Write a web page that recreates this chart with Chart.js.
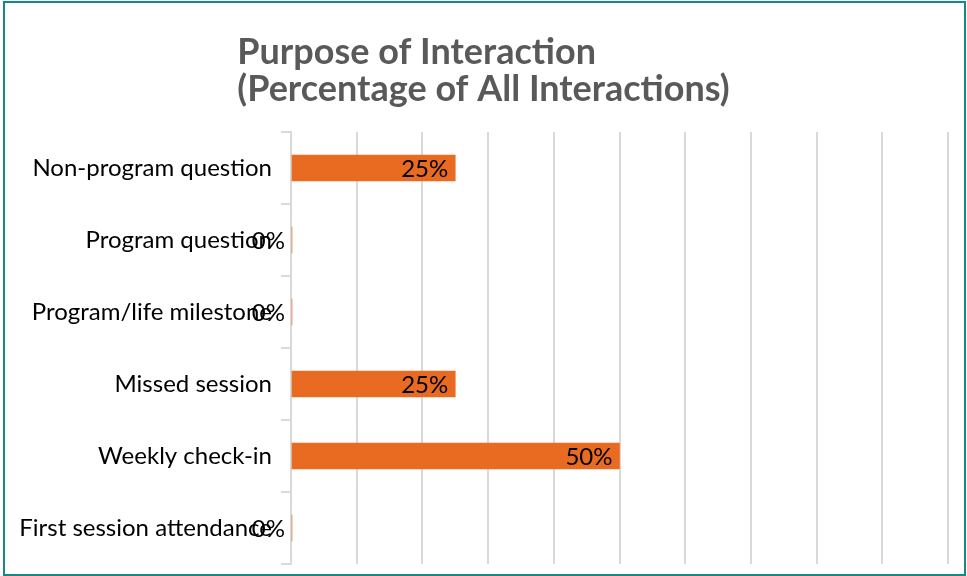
<!DOCTYPE html>
<html>
<head>
<meta charset="utf-8">
<script src="https://cdn.jsdelivr.net/npm/chart.js@4"></script>
<style>
  html, body { margin: 0; padding: 0; background: #fff; }
  #wrap { width: 967px; height: 576px; position: relative; }
</style>
</head>
<body>
<div id="wrap"><canvas id="chart"></canvas></div>
<script>
const categories = [
  'Non-program question',
  'Program question',
  'Program/life milestone',
  'Missed session',
  'Weekly check-in',
  'First session attendance'
];
const percentValues = [25, 0, 0, 25, 50, 0];
const titleLines = ['Purpose of Interaction', '(Percentage of All Interactions)'];

const barColor = '#e96b22';
const gridColor = '#d9d9d9';

// title block: lines left-aligned, block centred on the canvas
const blockTitle = {
  id: 'blockTitle',
  afterDraw: (chart) => {
    const {ctx} = chart;
    ctx.save();
    ctx.font = 'bold 36px Lato';
    ctx.fillStyle = '#595959';
    ctx.textBaseline = 'alphabetic';
    const w = Math.max(...titleLines.map(t => ctx.measureText(t).width));
    const x = (chart.width - w) / 2;
    titleLines.forEach((t, i) => ctx.fillText(t, x, 64 + i * 37));
    ctx.restore();
  }
};

const valueLabels = {
  id: 'valueLabels',
  afterDatasetsDraw: (chart) => {
    const {ctx} = chart;
    const meta = chart.getDatasetMeta(0);
    ctx.save();
    ctx.font = '24px Lato';
    ctx.fillStyle = '#000';
    ctx.textAlign = 'right';
    ctx.textBaseline = 'middle';
    meta.data.forEach((bar, i) => {
      ctx.fillText(`${percentValues[i]}%`, bar.x - 7, bar.y + 1);
    });
    ctx.restore();
  }
};

const frame = {
  id: 'frame',
  beforeDraw: (chart) => {
    const {ctx} = chart;
    ctx.save();
    ctx.fillStyle = '#fff';
    ctx.fillRect(0, 0, chart.width, chart.height);
    ctx.restore();
  },
  afterDraw: (chart) => {
    const {ctx} = chart;
    ctx.save();
    ctx.strokeStyle = '#13898a';
    ctx.lineWidth = 2;
    ctx.strokeRect(4, 2, chart.width - 6, chart.height - 3);
    ctx.restore();
  }
};

new Chart(document.getElementById('chart'), {
  type: 'bar',
  data: {
    labels: categories,
    datasets: [{
      data: percentValues,
      backgroundColor: barColor,
      barThickness: 26,
      minBarLength: 1
    }]
  },
  options: {
    indexAxis: 'y',
    responsive: true,
    maintainAspectRatio: false,
    animation: false,
    layout: { padding: { top: 132, right: 19, bottom: 12, left: 0 } },
    plugins: {
      legend: { display: false },
      title: { display: false },
      tooltip: { enabled: false }
    },
    scales: {
      x: {
        min: 0,
        max: 100,
        afterFit: (scale) => { scale.height = 0; scale.paddingLeft = 0; scale.paddingRight = 0; },
        ticks: { display: false, stepSize: 10 },
        grid: { color: gridColor, lineWidth: 2, drawTicks: false },
        border: { display: false }
      },
      y: {
        afterFit: (scale) => {
          scale.width = 291;
          scale.paddingTop = 0;
          scale.paddingBottom = 0;
        },
        ticks: {
          color: '#000',
          font: { family: 'Lato', size: 24 },
          padding: 9
        },
        grid: {
          drawOnChartArea: false,
          color: gridColor,
          lineWidth: 2,
          tickLength: 10
        },
        border: { color: gridColor, width: 2 }
      }
    }
  },
  plugins: [frame, blockTitle, valueLabels]
});
</script>
</body>
</html>
